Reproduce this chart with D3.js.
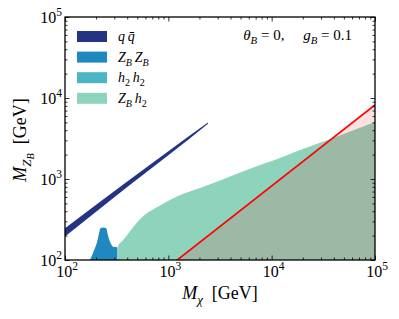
<!DOCTYPE html>
<html>
<head>
<meta charset="utf-8">
<script src="https://cdn.jsdelivr.net/npm/d3@7"></script>
<style>
body { margin: 0; background: #fff; }
text { font-family: "Liberation Serif", "DejaVu Serif", serif; fill: #000; }
</style>
</head>
<body>
<svg id="chart" width="399" height="319"></svg>
<script>
// values (GeV)
var qqX  = [100, 200, 400, 1000, 1600, 2420];
var qqLo = [195, 395, 795, 1960, 3150, 4800];
var qqHi = [247, 480, 930, 2200, 3420, 4980];

var zzX = [175, 203, 215, 222, 249, 257, 273, 294, 316, 322];
var zzY = [100, 162, 222, 248, 248, 215, 167, 145, 145, 100];

var zhX = [318, 322, 366, 573, 832, 1207, 2028, 3163, 6166, 12050, 18830, 39300, 100000];
var zhY = [100, 145, 177, 349, 471, 608, 774, 960, 1340, 1815, 2280, 3210, 5060];

var limX = [1000, 100000];
var limY = [82, 8200];

var decades = [1e2, 1e3, 1e4, 1e5];
var exps = ["2", "3", "4", "5"];

var legendNames = ["qq", "ZZ", "hh", "Zh"];
var legendColors = ["#253482", "#1f88c0", "#4bb5c5", "#8ed3bc"];

var svg = d3.select("#chart");
var pL = 65, pR = 375, pT = 17, pB = 260;

var x = d3.scaleLog().domain([1e2, 1e5]).range([pL, pR]);
var y = d3.scaleLog().domain([1e2, 1e5]).range([pB, pT]);

var minors = [];
[1e2, 1e3, 1e4].forEach(function(d) {
    for (var k = 2; k < 10; k++) minors.push(d * k);
});

svg.append("defs").append("clipPath").attr("id", "clip")
    .append("rect").attr("x", pL).attr("y", pT)
    .attr("width", pR - pL).attr("height", pB - pT);

var plot = svg.append("g").attr("clip-path", "url(#clip)");

// q qbar band
var qq = qqX.map(function(d, i) { return {x: d, lo: qqLo[i], hi: qqHi[i]}; });
plot.append("path").datum(qq)
    .attr("fill", legendColors[0])
    .attr("d", d3.area().x(function(d) { return x(d.x); })
        .y0(function(d) { return y(d.lo); }).y1(function(d) { return y(d.hi); }));

// Z_B Z_B region
var zz = zzX.map(function(d, i) { return [x(d), y(zzY[i])]; });
plot.append("path").attr("fill", legendColors[1])
    .attr("d", d3.line().curve(d3.curveCatmullRom)(zz) + "Z");

// Z_B h_2 region
var zh = zhX.map(function(d, i) { return {x: d, y: zhY[i]}; });
plot.append("path").datum(zh)
    .attr("fill", legendColors[3])
    .attr("d", d3.area().curve(d3.curveMonotoneX)
        .x(function(d) { return x(d.x); })
        .y0(y(100)).y1(function(d) { return y(d.y); }));

// excluded region below the red line
var lim = limX.map(function(d, i) { return {x: d, y: limY[i]}; });
plot.append("path").datum(lim)
    .attr("fill", "rgba(255,0,0,0.12)")
    .attr("d", d3.area().x(function(d) { return x(d.x); })
        .y0(y(100) + 20).y1(function(d) { return y(d.y); }));
plot.append("path").datum(lim)
    .attr("fill", "none").attr("stroke", "#ff0000").attr("stroke-width", 1.7)
    .attr("d", d3.line().x(function(d) { return x(d.x); }).y(function(d) { return y(d.y); }));

// axes, ticks pointing inward on every side
function ticks(axisFn, scale, transform) {
    var gMaj = svg.append("g").attr("transform", transform)
        .call(axisFn(scale).tickValues(decades).tickSize(-4.5).tickFormat(""));
    var gMin = svg.append("g").attr("transform", transform)
        .call(axisFn(scale).tickValues(minors).tickSize(-2.5).tickFormat(""));
    [gMaj, gMin].forEach(function(g) {
        g.select(".domain").remove();
        g.selectAll("line").attr("stroke", "#000").attr("stroke-width", 0.8);
    });
}
ticks(d3.axisBottom, x, "translate(0," + pB + ")");
ticks(d3.axisTop, x, "translate(0," + pT + ")");
ticks(d3.axisLeft, y, "translate(" + pL + ",0)");
ticks(d3.axisRight, y, "translate(" + pR + ",0)");

svg.append("rect").attr("x", pL).attr("y", pT)
    .attr("width", pR - pL).attr("height", pB - pT)
    .attr("fill", "none").attr("stroke", "#000").attr("stroke-width", 1.3);

// tick labels 10^n
function power(g, px, py, e, anchor) {
    var t = g.append("text").attr("x", px).attr("y", py)
        .attr("font-size", 16).attr("text-anchor", anchor);
    t.append("tspan").text("10");
    t.append("tspan").attr("dy", -7).attr("font-size", 11.5).text(e);
}
decades.forEach(function(d, i) {
    power(svg, x(d) + 2, pB + 17, exps[i], "middle");
    power(svg, pL - 3, y(d) + 6, exps[i], "end");
});

// math-ish text: parts are [string, italic, level]; level 1 = sub, 2 = subsub
function mathText(parent, px, py, parts, size, anchor) {
    var off = {"0": 0, "1": 0.28, "2": 0.45, "-1": -0.4};
    var scl = {"0": 1, "1": 0.72, "2": 0.56, "-1": 0.72};
    var t = parent.append("text").attr("x", px).attr("y", py)
        .attr("font-size", size).attr("text-anchor", anchor || "start");
    var prev = 0;
    parts.forEach(function(p) {
        var lvl = p[2] || 0;
        t.append("tspan")
            .attr("dy", (off[lvl] - off[prev]) * size)
            .attr("font-size", size * scl[lvl])
            .attr("font-style", p[1] ? "italic" : "normal")
            .text(p[0]);
        prev = lvl;
    });
    return t;
}

// legend
var legendLabels = [
    [["q", 1], ["\u2009q\u0304", 1]],
    [["Z", 1], ["B", 1, 1], ["\u2009Z", 1, 0], ["B", 1, 1]],
    [["h", 1], ["2", 0, 1], ["\u2009h", 1, 0], ["2", 0, 1]],
    [["Z", 1], ["B", 1, 1], ["\u2009h", 1, 0], ["2", 0, 1]]
];
var legend = svg.append("g");
legendNames.forEach(function(n, i) {
    var ly = 31 + i * 20.6;
    legend.append("rect").attr("x", 77).attr("y", ly)
        .attr("width", 30).attr("height", 11).attr("fill", legendColors[i]);
    mathText(legend, 118, ly + 10, legendLabels[i], 14);
});

// annotation
mathText(svg, 352, 40, [["\u03b8", 1], ["B", 1, 1], [" = 0,\u2003 ", 0, 0],
    ["g", 1], ["B", 1, 1], [" = 0.1", 0, 0]], 15, "end");

// axis labels
mathText(svg, 220, 299, [["M", 1], ["\u03c7", 1, 1], ["\u2002[GeV]", 0, 0]], 18, "middle");
var yl = svg.append("g").attr("transform", "translate(26,140) rotate(-90)");
mathText(yl, 0, 0, [["M", 1], ["Z", 1, 1], ["B", 1, 2], ["\u2002[GeV]", 0, 0]], 18, "middle");
</script>
</body>
</html>
